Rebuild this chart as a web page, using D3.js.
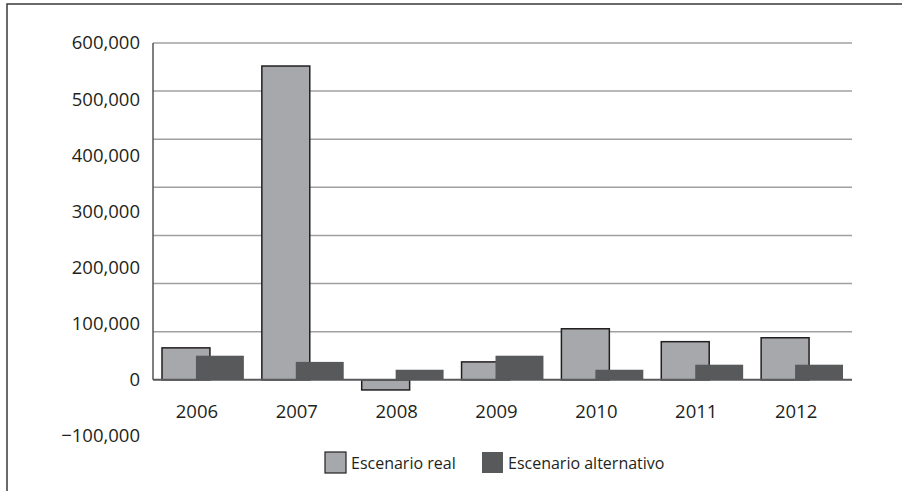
<!DOCTYPE html>
<html>
<head>
<meta charset="utf-8">
<script src="https://cdn.jsdelivr.net/npm/d3@7"></script>
<style>
  body { margin: 0; background: #fff; }
  text { font-family: "Open Sans", "DejaVu Sans", sans-serif; fill: #231f20; }
</style>
</head>
<body>
<div id="chart"></div>
<script>
const years = ["2006", "2007", "2008", "2009", "2010", "2011", "2012"];
const real = [57000, 559000, -18000, 32000, 91000, 68000, 75000];
const alternativo = [43000, 32000, 18000, 43000, 18000, 27000, 27000];
const yTicks = [600000, 500000, 400000, 300000, 200000, 100000, 0, -100000];
const seriesNames = ["Escenario real", "Escenario alternativo"];

const width = 902, height = 491;
const svg = d3.select("#chart").append("svg").attr("width", width).attr("height", height);

// frame
svg.append("rect")
  .attr("x", 7).attr("y", 4).attr("width", 920).attr("height", 520)
  .attr("fill", "none").attr("stroke", "#3a3a3a").attr("stroke-width", 1.5);

const left = 153, right = 852;
const y = d3.scaleLinear().domain([-100000, 600000]).range([436, 43]);
const x = d3.scaleBand().domain(years).range([left, right]);
const bw = x.bandwidth();

// grid lines: 7 equal steps between 0 and the top
const grid = d3.range(1, 8).map(i => 600000 * i / 7);
svg.selectAll(".grid").data(grid).join("line")
  .attr("x1", left).attr("x2", right)
  .attr("y1", d => y(d)).attr("y2", d => y(d))
  .attr("stroke", "#a0a0a0").attr("stroke-width", 1.5);

// y axis line
svg.append("line")
  .attr("x1", left).attr("x2", left).attr("y1", y(600000)).attr("y2", y(0))
  .attr("stroke", "#555").attr("stroke-width", 1.5);

svg.selectAll(".ylab").data(yTicks).join("text")
  .attr("x", 140).attr("y", d => y(d)).attr("dy", "0.35em")
  .attr("text-anchor", "end").attr("font-size", 18.5)
  .text(d => d < 0 ? "\u2212" + d3.format(",")(-d) : d3.format(",")(d));

// bars
svg.selectAll(".real").data(real).join("rect")
  .attr("x", (d, i) => x(years[i]) + bw * 0.09)
  .attr("width", bw * 0.48)
  .attr("y", d => y(Math.max(d, 0)))
  .attr("height", d => Math.abs(y(d) - y(0)))
  .attr("fill", "#a7a8ab").attr("stroke", "#231f20").attr("stroke-width", 1.5);

svg.selectAll(".alt").data(alternativo).join("rect")
  .attr("x", (d, i) => x(years[i]) + bw * 0.43)
  .attr("width", bw * 0.48)
  .attr("y", d => y(Math.max(d, 0)))
  .attr("height", d => Math.abs(y(d) - y(0)))
  .attr("fill", "#58595b");

// baseline
svg.append("line")
  .attr("x1", left).attr("x2", right).attr("y1", y(0)).attr("y2", y(0))
  .attr("stroke", "#58595b").attr("stroke-width", 2);

svg.selectAll(".xlab").data(years).join("text")
  .attr("x", d => x(d) + bw * 0.44).attr("y", 418)
  .attr("text-anchor", "middle").attr("font-size", 18.5)
  .text(d => d);

// legend
const legend = svg.append("g");
const lx = [325, 482];
legend.selectAll("rect").data(seriesNames).join("rect")
  .attr("x", (d, i) => lx[i]).attr("y", 452)
  .attr("width", 21).attr("height", 21)
  .attr("fill", (d, i) => i === 0 ? "#a7a8ab" : "#58595b")
  .attr("stroke", (d, i) => i === 0 ? "#231f20" : "none").attr("stroke-width", 1.2);
legend.selectAll("text").data(seriesNames).join("text")
  .attr("x", (d, i) => lx[i] + 26).attr("y", 469)
  .attr("font-size", 16)
  .text(d => d);
</script>
</body>
</html>
